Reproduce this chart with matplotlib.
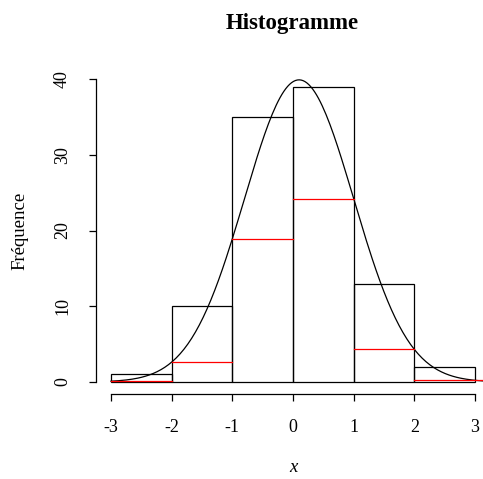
import numpy as np
import matplotlib
matplotlib.use("Agg")
import matplotlib.pyplot as plt

# histogram data
bin_edges = [-3, -2, -1, 0, 1, 2, 3]
counts = [1, 10, 35, 39, 13, 2]
# red level per bin
red_levels = [0.1, 2.6, 18.9, 24.1, 4.3, 0.2]
# fitted normal curve (scaled density)
curve_mean = 0.1
curve_sd = 0.9
curve_total = 90

x_ticks = [-3, -2, -1, 0, 1, 2, 3]
y_ticks = [0, 10, 20, 30, 40]

plt.rcParams['font.family'] = ['Liberation Serif', 'DejaVu Serif']
plt.rcParams['axes.unicode_minus'] = False

W, H = 483, 479
fig = plt.figure(figsize=(W / 100, H / 100), dpi=100)
# plot region in pixels: left 96.4, right 489.6, top 74.8, bottom 393.8
ax = fig.add_axes([96.4 / W, (H - 393.8) / H, 393.2 / W, 319.0 / H])
ax.set_xlim(-3.24, 3.24)
ax.set_ylim(-1.56, 40.56)

lefts = np.array(bin_edges[:-1])
widths = np.diff(bin_edges)
ax.bar(lefts, counts, width=widths, align='edge', facecolor='none',
       edgecolor='black', linewidth=0.9)

xs = np.linspace(-3, 3.3, 200)
ys = curve_total / (curve_sd * np.sqrt(2 * np.pi)) * np.exp(-0.5 * ((xs - curve_mean) / curve_sd) ** 2)
ax.plot(xs, ys, color='black', linewidth=0.9)

for i, lev in enumerate(red_levels):
    x0 = bin_edges[i]
    x1 = bin_edges[i + 1] if i < len(red_levels) - 1 else 3.3
    ax.plot([x0, x1], [lev, lev], color='red', linewidth=0.9)

for s in ['top', 'right']:
    ax.spines[s].set_visible(False)
ax.spines['left'].set_bounds(0, 40)
ax.spines['bottom'].set_bounds(-3, 3)
ax.spines['left'].set_linewidth(0.9)
ax.spines['bottom'].set_linewidth(0.9)

ax.set_xticks(x_ticks)
ax.set_xticklabels([str(v) for v in x_ticks])
ax.set_yticks(y_ticks)
ax.set_yticklabels([str(v) for v in y_ticks])
ax.tick_params(axis='both', direction='out', length=5.2, width=0.9, labelsize=13)
ax.tick_params(axis='x', pad=13)
ax.tick_params(axis='y', pad=13, labelrotation=90)
for lab in ax.get_yticklabels():
    lab.set_va('center')

fig.text(292.5 / W, 1 - 23 / H, 'Histogramme', ha='center', va='center',
         fontsize=16.5, fontweight='bold')
fig.text(20 / W, 1 - 231 / H, 'Fréquence', ha='center', va='center',
         rotation=90, fontsize=13.5)
fig.text(293 / W, 1 - 468 / H, 'x', ha='center', va='center',
         fontsize=13.5, style='italic')

fig.savefig('out.png', dpi=100)
